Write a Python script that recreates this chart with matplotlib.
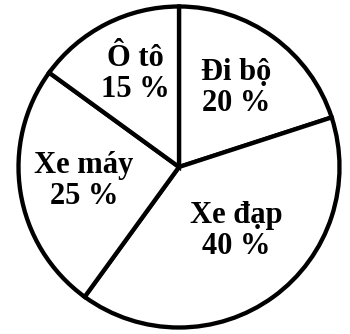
import matplotlib
matplotlib.use("Agg")
import matplotlib.pyplot as plt

categories = ["Đi bộ", "Xe đạp", "Xe máy", "Ô tô"]
values = [20, 40, 25, 15]
label_pos = [(236, 88), (236, 231), (84, 181), (135, 74)]  # pixel centres (x, y from top)

W, H = 350, 334
fig = plt.figure(figsize=(W / 100, H / 100), dpi=100)
ax = fig.add_axes([0, 0, 1, 1])

ax.pie(values, startangle=90, counterclock=False, center=(179, H - 167),
       radius=160.5, colors=["white"] * 4,
       wedgeprops=dict(edgecolor="black", linewidth=3.1), frame=True)
ax.set_xlim(0, W)
ax.set_ylim(0, H)
ax.axis("off")

for cat, v, (x, y) in zip(categories, values, label_pos):
    ax.text(x, H - y, f"{cat}\n{v} %", ha="center", va="center",
            fontsize=22, fontweight="bold", family="Liberation Serif",
            linespacing=1.1)

fig.savefig("out.png", dpi=100)
